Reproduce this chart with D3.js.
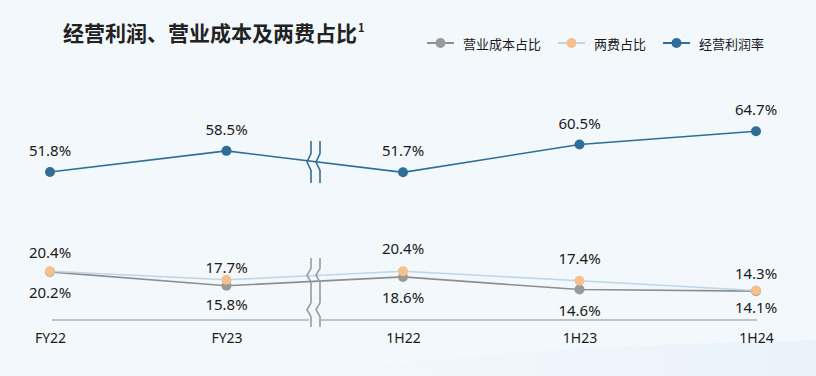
<!DOCTYPE html>
<html><head><meta charset="utf-8">
<script src="https://cdn.jsdelivr.net/npm/d3@7"></script>
<style>
html,body{margin:0;padding:0;background:#f3f8fd;}
svg{display:block;font-family:"Noto Sans CJK SC","Noto Sans",sans-serif;}
</style></head><body>
<svg id="c" width="816" height="376"></svg>
<script>
const categories = ["FY22","FY23","1H22","1H23","1H24"];
const costRatio = [20.2,15.8,18.6,14.6,14.1];
const feeRatio = [20.4,17.7,20.4,17.4,14.3];
const profitMargin = [51.8,58.5,51.7,60.5,64.7];
const seriesNames = ["营业成本占比","两费占比","经营利润率"];
const title = "经营利润、营业成本及两费占比";

const svg = d3.select("#c");
const W = 816, H = 376;

const defs = svg.append("defs");
const g1 = defs.append("linearGradient").attr("id","wave").attr("x1","0").attr("x2","1");
g1.append("stop").attr("offset","0").attr("stop-color","#f3f8fd");
g1.append("stop").attr("offset","1").attr("stop-color","#e6f0f9");
svg.append("rect").attr("width",W).attr("height",H).attr("fill","#f3f8fd");
svg.append("path").attr("d","M300,376 C480,350 640,345 816,340 L816,376 Z").attr("fill","url(#wave)").attr("opacity",0.7);

const x = d3.scalePoint().domain(categories).range([50,756]);
const y = d3.scaleLinear().domain([0,100]).range([335.7,335.7-316]);

const axisY = 320;
const axisG = svg.append("g").attr("transform",`translate(0,${axisY})`);
const ax = d3.axisBottom(x).tickSize(0).tickPadding(10);
axisG.call(ax);
axisG.select(".domain").remove();
axisG.selectAll("text").attr("font-size",14).attr("fill","#1a1a1a").attr("dy","0.95em")
  .attr("font-family","'Noto Sans','Open Sans',sans-serif");
svg.append("line").attr("x1",52).attr("x2",309).attr("y1",axisY).attr("y2",axisY).attr("stroke","#8f8f8f").attr("stroke-width",1.2);
svg.append("line").attr("x1",321).attr("x2",757).attr("y1",axisY).attr("y2",axisY).attr("stroke","#8f8f8f").attr("stroke-width",1.2);

const series = [
  {name:seriesNames[0], vals:costRatio, line:"#8e8e8e", dot:"#9a9a9a"},
  {name:seriesNames[1], vals:feeRatio, line:"#bcd6ea", dot:"#f6bf8b"},
  {name:seriesNames[2], vals:profitMargin, line:"#2f6f97", dot:"#2f6f97"}
];
const lineGen = d3.line().x((d,i)=>x(categories[i])).y(d=>y(d));
series.forEach(s=>{
  svg.append("path").attr("d",lineGen(s.vals)).attr("fill","none").attr("stroke",s.line).attr("stroke-width",1.6);
});
series.forEach(s=>{
  svg.selectAll(null).data(s.vals).enter().append("circle")
    .attr("cx",(d,i)=>x(categories[i])).attr("cy",d=>y(d)).attr("r",5).attr("fill",s.dot);
});

function zig(cx, y0, y1, kinks){
  const p = d3.path();
  p.moveTo(cx+2, y0);
  const seg = (y1-y0)/kinks;
  for(let k=0;k<kinks;k++){
    const a = y0 + k*seg;
    p.lineTo(cx+2, a+seg*0.3);
    p.lineTo(cx-2, a+seg*0.5);
    p.lineTo(cx+2, a+seg*0.7);
    p.lineTo(cx+2, a+seg);
  }
  return p.toString();
}
[[309,"#2f6f97",141,183,1],[318,"#2f6f97",141,183,1],[309,"#9a9a9a",258,327,2],[318,"#9a9a9a",258,327,2]].forEach(b=>{
  svg.append("path").attr("d",zig(b[0],b[2],b[3],b[4])).attr("fill","none").attr("stroke",b[1]).attr("stroke-width",1.6);
});

const labFont = "'Noto Sans','Open Sans',sans-serif";
function lab(i, v, dy){
  svg.append("text").attr("x",x(categories[i])).attr("y",y(v)+dy)
    .attr("text-anchor","middle").attr("dominant-baseline","central")
    .attr("font-size",15).attr("fill","#1a1a1a").attr("font-family",labFont)
    .text(v.toFixed(1)+"%");
}
profitMargin.forEach((v,i)=>lab(i,v,-22));
const feeDy = [-19,-13,-23,-23,-18];
feeRatio.forEach((v,i)=>lab(i,v,feeDy[i]));
const costDy = [20,18,20,20,16];
costRatio.forEach((v,i)=>lab(i,v,costDy[i]));

const t = svg.append("text").attr("x",63).attr("y",41).attr("font-size",21).attr("font-weight","bold").attr("fill","#222");
t.append("tspan").text(title);
t.append("tspan").attr("font-size",11).attr("dy",-9).attr("dx",1).text("1");

const legX = [427,558,663];
series.forEach((s,i)=>{
  const g = svg.append("g").attr("transform",`translate(${legX[i]},43)`);
  g.append("line").attr("x1",0).attr("x2",27).attr("stroke",s.line).attr("stroke-width",2);
  g.append("circle").attr("cx",13.5).attr("r",5).attr("fill",s.dot);
  g.append("text").attr("x",36).attr("dominant-baseline","central").attr("font-size",13).attr("fill","#1a1a1a").text(s.name);
});
</script>
</body></html>
